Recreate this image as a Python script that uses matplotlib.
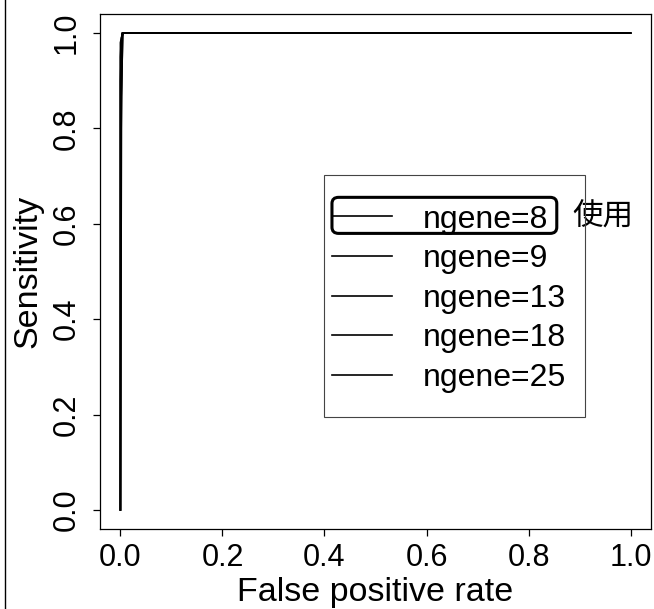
import matplotlib
matplotlib.use('Agg')
import matplotlib.pyplot as plt
from matplotlib.patches import Rectangle, FancyBboxPatch
from matplotlib.lines import Line2D

plt.rcParams['font.family'] = ['Liberation Sans', 'Noto Sans CJK JP', 'DejaVu Sans']

# ROC curves (all hug the top-left corner)
labels = ["ngene=8", "ngene=9", "ngene=13", "ngene=18", "ngene=25"]
fpr_8 = [0.0, 0.0, 0.004, 1.0]
tpr_8 = [0.0, 0.98, 1.0, 1.0]
fpr_9 = [0.0, 0.0, 0.002, 0.006, 1.0]
tpr_9 = [0.0, 0.95, 0.99, 1.0, 1.0]
fpr_13 = [0.0, 0.002, 0.004, 1.0]
tpr_13 = [0.0, 0.80, 1.0, 1.0]
fpr_18 = [0.0, 0.0, 0.003, 1.0]
tpr_18 = [0.0, 0.90, 1.0, 1.0]
fpr_25 = [0.0, 0.001, 0.005, 1.0]
tpr_25 = [0.0, 0.85, 1.0, 1.0]
ticks = [0.0, 0.2, 0.4, 0.6, 0.8, 1.0]
tick_labels = ["0.0", "0.2", "0.4", "0.6", "0.8", "1.0"]
note = "使用"

curves = [(fpr_8, tpr_8), (fpr_9, tpr_9), (fpr_13, tpr_13),
          (fpr_18, tpr_18), (fpr_25, tpr_25)]

fig = plt.figure(figsize=(6.54, 6.09), dpi=100)
ax = fig.add_axes([100 / 654, 1 - 529 / 609, 551 / 654, 515 / 609])

for (fx, ty), lab in zip(curves, labels):
    ax.plot(fx, ty, color="black", lw=1.2, label=lab)

ax.set_xlim(-0.04, 1.04)
ax.set_ylim(-0.04, 1.04)
ax.set_xticks(ticks)
ax.set_xticklabels(tick_labels)
ax.set_yticks(ticks)
ax.set_yticklabels(tick_labels, rotation=90, va="center")
ax.tick_params(direction="out", length=5, width=0.9, labelsize=22)
ax.tick_params(axis="x", pad=5)
ax.tick_params(axis="y", pad=8)
for spine in ax.spines.values():
    spine.set_linewidth(0.9)
ax.set_xlabel("False positive rate", fontsize=24.5, labelpad=3)
ax.set_ylabel("Sensitivity", fontsize=24.5, labelpad=6)

# legend frame (R style square box) and entries
ax.add_patch(Rectangle((0.4065, 0.2175), 0.4735, 0.4695, transform=ax.transAxes,
                       fill=False, edgecolor="#444444", lw=0.8, zorder=4))
leg = ax.legend(loc="upper left", bbox_to_anchor=(0.421, 0.630),
                bbox_transform=ax.transAxes, frameon=False, fontsize=23,
                borderpad=0, borderaxespad=0, handlelength=1.875,
                handletextpad=0.97, labelspacing=0.3)

# hand-drawn highlight round the first entry
ax.add_patch(FancyBboxPatch((0.425, 0.578), 0.400, 0.062,
                            boxstyle="round,pad=0.004,rounding_size=0.012",
                            transform=ax.transAxes, fill=False,
                            edgecolor="black", lw=2.2, zorder=5, clip_on=False))
ax.text(0.858, 0.606, note, transform=ax.transAxes, fontsize=22,
        family=['Noto Sans CJK JP', 'DejaVu Sans'], va="center", ha="left",
        clip_on=False)

# page border on the left
fig.add_artist(Line2D([4.5 / 654, 4.5 / 654], [0, 1], color="black", lw=1.0))

fig.savefig("out.png", dpi=100)
